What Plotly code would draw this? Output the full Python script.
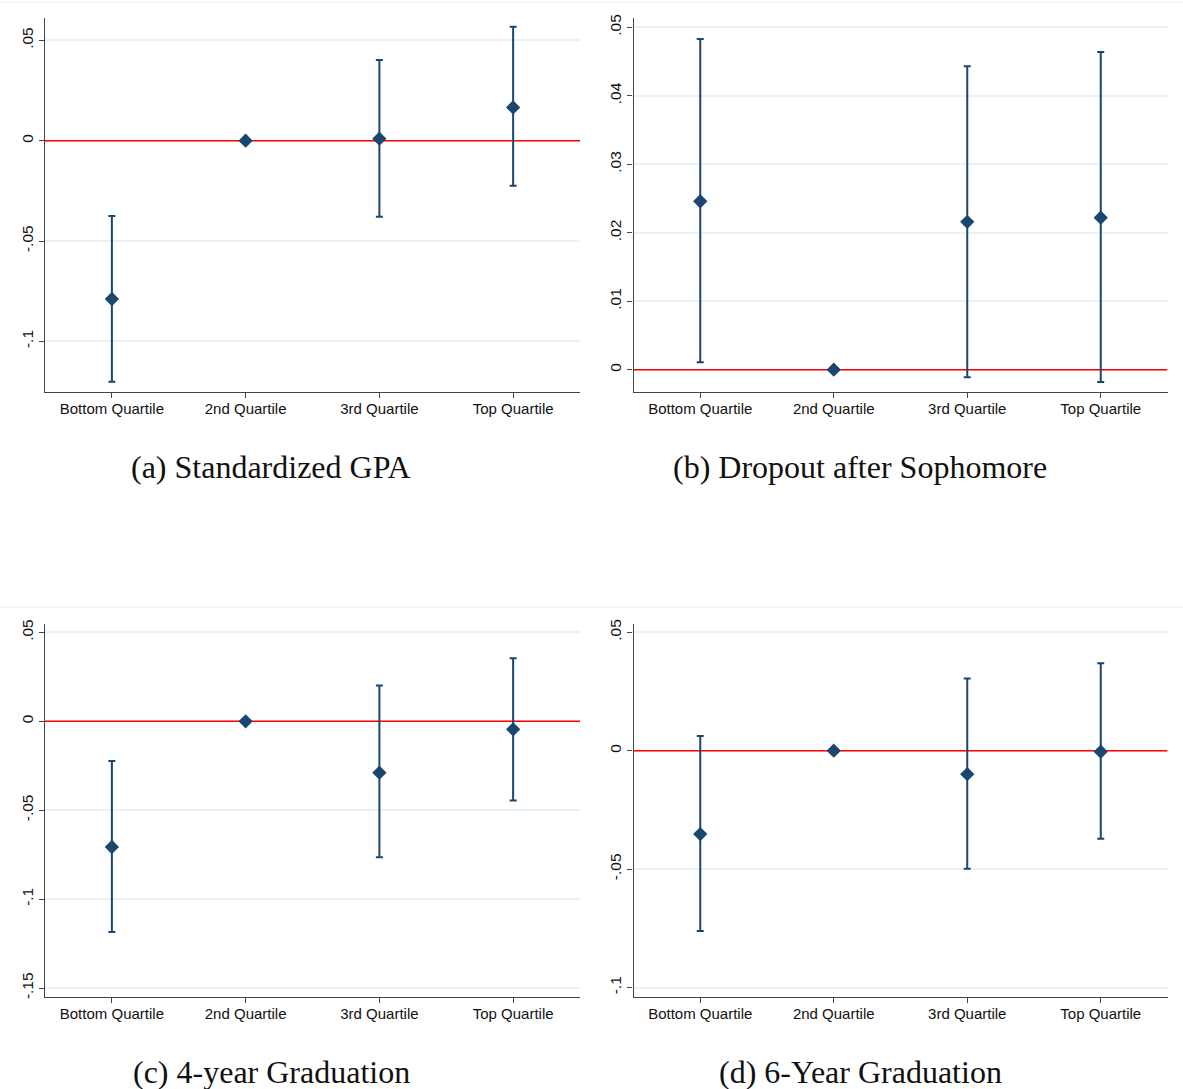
import plotly.graph_objects as go

# Quartile categories on the x axis
categories = ["Bottom Quartile", "2nd Quartile", "3rd Quartile", "Top Quartile"]

# Point estimates and 95% confidence bounds (2nd quartile is the omitted group)
gpa_est = [-0.0789, 0.0, 0.0010, 0.0166]
gpa_lo = [-0.1201, None, -0.0379, -0.0224]
gpa_hi = [-0.0375, None, 0.0402, 0.0568]

drop_est = [0.0246, 0.0, 0.0216, 0.0222]
drop_lo = [0.0011, None, -0.0011, -0.0018]
drop_hi = [0.0483, None, 0.0443, 0.0464]

grad4_est = [-0.0707, 0.0, -0.0289, -0.0045]
grad4_lo = [-0.1185, None, -0.0765, -0.0446]
grad4_hi = [-0.0223, None, 0.0201, 0.0354]

grad6_est = [-0.0352, 0.0, -0.0099, -0.0004]
grad6_lo = [-0.0761, None, -0.0498, -0.0372]
grad6_hi = [0.0062, None, 0.0305, 0.0369]

# y-axis ticks per panel
gpa_ticks = [-0.1, -0.05, 0, 0.05]
gpa_ticktext = ["-.1", "-.05", "0", ".05"]
drop_ticks = [0, 0.01, 0.02, 0.03, 0.04, 0.05]
drop_ticktext = ["0", ".01", ".02", ".03", ".04", ".05"]
grad4_ticks = [-0.15, -0.1, -0.05, 0, 0.05]
grad4_ticktext = ["-.15", "-.1", "-.05", "0", ".05"]
grad6_ticks = [-0.1, -0.05, 0, 0.05]
grad6_ticktext = ["-.1", "-.05", "0", ".05"]

captions = ["(a) Standardized GPA", "(b) Dropout after Sophomore",
            "(c) 4-year Graduation", "(d) 6-Year Graduation"]

panels = [
    (gpa_est, gpa_lo, gpa_hi, gpa_ticks, gpa_ticktext, [-0.1251, 0.0610]),
    (drop_est, drop_lo, drop_hi, drop_ticks, drop_ticktext, [-0.00321, 0.05131]),
    (grad4_est, grad4_lo, grad4_hi, grad4_ticks, grad4_ticktext, [-0.1552, 0.0547]),
    (grad6_est, grad6_lo, grad6_hi, grad6_ticks, grad6_ticktext, [-0.1041, 0.0535]),
]

W, H = 1183, 1089
NAVY = "#1a476f"
GRID = "#eaf2f3"
AXIS = "#444444"

# panel boxes in pixels: (left, right, top, bottom)
boxes = [
    (45, 580, 18.3, 391.7),
    (633.5, 1167.5, 18.3, 391.7),
    (45, 580, 624, 997.3),
    (633.5, 1167.5, 624, 997.3),
]
caption_y = [467, 467, 1072, 1072]
caption_x = [271, 860, 271, 860]

fig = go.Figure()
xpos = [1, 2, 3, 4]

layout = dict(
    width=W, height=H,
    margin=dict(l=0, r=0, t=0, b=0, autoexpand=False),
    paper_bgcolor="white", plot_bgcolor="white",
    showlegend=False,
    font=dict(family="Liberation Sans, Arial, sans-serif", color="#111111"),
)

annotations = []
shapes = []

for i, (est, lo, hi, ticks, ticktext, yr) in enumerate(panels):
    n = i + 1
    xa = "x" if n == 1 else f"x{n}"
    ya = "y" if n == 1 else f"y{n}"
    left, right, top, bottom = boxes[i]

    # red reference line at zero, drawn beneath the estimates
    fig.add_trace(go.Scatter(
        x=[0.5, 4.5], y=[0, 0], mode="lines", xaxis=xa, yaxis=ya,
        line=dict(color="#ff0000", width=1.6), hoverinfo="skip",
    ))

    err_plus = [None if h is None else h - e for e, h in zip(est, hi)]
    err_minus = [None if l is None else e - l for e, l in zip(est, lo)]

    fig.add_trace(go.Scatter(
        x=xpos, y=est, mode="markers", xaxis=xa, yaxis=ya,
        marker=dict(symbol="diamond", size=11, color=NAVY),
        error_y=dict(type="data", symmetric=False, array=err_plus,
                     arrayminus=err_minus, color=NAVY, thickness=2, width=3.5),
        cliponaxis=False,
    ))

    layout[f"xaxis{'' if n == 1 else n}"] = dict(
        domain=[left / W, right / W],
        anchor=ya, range=[0.5, 4.5], automargin=False,
        tickvals=xpos, ticktext=categories,
        ticks="outside", ticklen=5, tickcolor=AXIS, tickwidth=1,
        showline=True, linecolor=AXIS, linewidth=1.2,
        showgrid=False, zeroline=False, ticklabelstandoff=-2,
        tickfont=dict(size=15, color="#111111"),
    )
    layout[f"yaxis{'' if n == 1 else n}"] = dict(
        domain=[1 - bottom / H, 1 - top / H],
        anchor=xa, range=yr, automargin=False,
        tickvals=ticks, ticktext=ticktext, tickangle=-90,
        ticks="outside", ticklen=5, tickcolor=AXIS, tickwidth=1,
        showline=True, linecolor=AXIS, linewidth=1.2,
        showgrid=True, gridcolor=GRID, gridwidth=1.5,
        zeroline=False, ticklabelstandoff=0,
        tickfont=dict(size=15.5, color="#111111"),
    )

    annotations.append(dict(
        text=captions[i], xref="paper", yref="paper",
        x=caption_x[i] / W, y=1 - caption_y[i] / H,
        xanchor="center", yanchor="middle", showarrow=False,
        font=dict(family="Liberation Serif, serif", size=32, color="#111111"),
    ))

# faint outer borders of each graph region
for yp in [2, 607]:
    shapes.append(dict(type="line", xref="paper", yref="paper",
                       x0=0, x1=1, y0=1 - yp / H, y1=1 - yp / H,
                       line=dict(color="#e6eef0", width=1)))

layout["annotations"] = annotations
layout["shapes"] = shapes
fig.update_layout(**layout)

fig.write_html("out.html")
